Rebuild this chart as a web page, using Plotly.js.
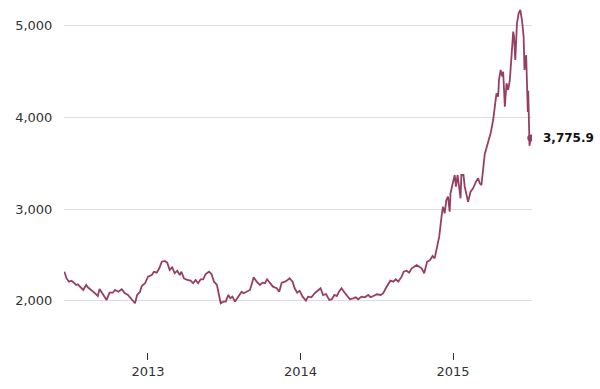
<!DOCTYPE html>
<html>
<head>
<meta charset="utf-8">
<script src="https://cdn.plot.ly/plotly-3.0.1.min.js"></script>
<style>
  html, body { margin: 0; padding: 0; background: #ffffff; }
  #chart { width: 600px; height: 389px; }
</style>
</head>
<body>
<div id="chart"></div>
<script>
// Index level (date, close)
const dates = [
  "2012-06-15","2012-06-20","2012-06-26","2012-07-02","2012-07-09","2012-07-13","2012-07-17","2012-07-24","2012-07-30",
  "2012-08-06","2012-08-10","2012-08-20","2012-08-27","2012-09-03","2012-09-07","2012-09-14","2012-09-24","2012-10-01",
  "2012-10-09","2012-10-14","2012-10-22","2012-10-30","2012-11-07","2012-11-14","2012-11-23","2012-12-01","2012-12-06",
  "2012-12-13","2012-12-17","2012-12-25","2013-01-01","2013-01-10","2013-01-15","2013-01-22","2013-01-28","2013-02-03",
  "2013-02-10","2013-02-16","2013-02-22","2013-02-28","2013-03-06","2013-03-12","2013-03-18","2013-03-22","2013-03-28",
  "2013-04-05","2013-04-13","2013-04-19","2013-04-25","2013-05-01","2013-05-07","2013-05-13","2013-05-19","2013-05-27",
  "2013-06-02","2013-06-08","2013-06-15","2013-06-20","2013-06-24","2013-06-30","2013-07-06","2013-07-12","2013-07-17",
  "2013-07-22","2013-07-28","2013-08-05","2013-08-13","2013-08-18","2013-08-25","2013-09-02","2013-09-08","2013-09-11",
  "2013-09-18","2013-09-26","2013-10-02","2013-10-08","2013-10-13","2013-10-20","2013-10-27","2013-11-05","2013-11-11",
  "2013-11-17","2013-11-25","2013-12-01","2013-12-06","2013-12-13","2013-12-18","2013-12-24","2013-12-30","2014-01-06",
  "2014-01-14","2014-01-19","2014-01-27","2014-02-04","2014-02-12","2014-02-18","2014-02-24","2014-03-03","2014-03-11",
  "2014-03-17","2014-03-23","2014-03-29","2014-04-03","2014-04-09","2014-04-15","2014-04-21","2014-04-29","2014-05-07",
  "2014-05-13","2014-05-19","2014-05-27","2014-06-04","2014-06-12","2014-06-18","2014-06-26","2014-07-03","2014-07-12",
  "2014-07-18","2014-07-24","2014-07-30","2014-08-04","2014-08-11","2014-08-17","2014-08-23","2014-08-31","2014-09-05",
  "2014-09-12","2014-09-18","2014-09-24","2014-09-30","2014-10-06","2014-10-12","2014-10-18","2014-10-24","2014-10-31",
  "2014-11-07","2014-11-13","2014-11-18","2014-11-24","2014-11-29","2014-12-05","2014-12-08","2014-12-12","2014-12-16",
  "2014-12-20","2014-12-24","2014-12-26","2014-12-31","2015-01-05","2015-01-08","2015-01-12","2015-01-16","2015-01-19",
  "2015-01-21","2015-01-26","2015-01-29","2015-02-02","2015-02-06","2015-02-12","2015-02-18","2015-02-25","2015-03-02",
  "2015-03-06","2015-03-10","2015-03-18","2015-03-23","2015-03-26","2015-04-01","2015-04-07","2015-04-11","2015-04-15",
  "2015-04-19","2015-04-21","2015-04-25","2015-04-29","2015-05-01","2015-05-05","2015-05-09","2015-05-13","2015-05-17",
  "2015-05-21","2015-05-25","2015-05-27","2015-05-30","2015-06-03","2015-06-07","2015-06-11","2015-06-15","2015-06-19",
  "2015-06-21","2015-06-25","2015-06-27","2015-06-29","2015-06-30","2015-07-01","2015-07-02","2015-07-03","2015-07-06"
];
const values = [
  2316,2244,2207,2218,2190,2171,2179,2146,2117,
  2171,2146,2109,2081,2051,2128,2081,2008,2087,
  2087,2117,2098,2124,2081,2062,2008,1972,2062,
  2098,2160,2190,2262,2280,2316,2305,2353,2425,
  2433,2415,2335,2364,2299,2327,2280,2316,2244,
  2226,2218,2190,2226,2190,2233,2233,2291,2316,
  2291,2207,2171,2062,1972,1989,1989,2062,2026,
  2044,1989,2044,2098,2081,2098,2117,2207,2255,
  2207,2171,2196,2190,2233,2196,2153,2135,2098,
  2196,2207,2226,2244,2207,2135,2087,2108,2044,
  2000,2044,2037,2081,2117,2135,2062,2073,2008,
  2015,2062,2051,2098,2135,2098,2062,2015,2026,
  2037,2015,2044,2037,2062,2037,2051,2070,2062,
  2081,2135,2190,2218,2207,2233,2207,2262,2316,
  2327,2305,2353,2371,2389,2371,2353,2299,2425,
  2444,2488,2462,2589,2698,2935,3025,2953,3098,
  3135,2971,3172,3262,3371,3244,3371,3226,3117,
  3371,3371,3244,3172,3080,3189,3226,3298,3335,
  3280,3262,3600,3680,3717,3826,3971,4117,4262,
  4226,4408,4517,4444,4498,4117,4371,4299,4408,
  4662,4935,4880,4626,5026,5135,5171,5062,4880,
  4517,4680,4262,4060,4290,4060,3910,3690,3775.9
];
const yTickValues = [2000, 3000, 4000, 5000];
const xTickValues = ["2013-01-01", "2014-01-01", "2015-01-01"];
const xTickLabels = ["2013", "2014", "2015"];

const lineColor = "#973f63";
const lastDate = dates[dates.length - 1];
const lastValue = values[values.length - 1];
const lastLabel = lastValue.toLocaleString("en-US", {minimumFractionDigits: 1, maximumFractionDigits: 1});

const traces = [
  {
    x: dates, y: values, type: "scatter", mode: "lines",
    line: {color: lineColor, width: 1.8},
    hoverinfo: "skip"
  },
  {
    x: [lastDate], y: [lastValue], type: "scatter", mode: "markers",
    marker: {color: lineColor, size: 7},
    hoverinfo: "skip"
  }
];

const layout = {
  width: 600, height: 389,
  margin: {l: 64, r: 68, t: 8, b: 37},
  paper_bgcolor: "#ffffff", plot_bgcolor: "#ffffff",
  showlegend: false,
  font: {family: "DejaVu Sans, sans-serif", size: 13, color: "#333333"},
  xaxis: {
    type: "date",
    range: ["2012-06-14", "2015-07-09"],
    tickvals: xTickValues, ticktext: xTickLabels,
    ticks: "outside", ticklen: 7, tickwidth: 1, tickcolor: "#333333",
    showgrid: false, zeroline: false, showline: false,
    tickfont: {family: "DejaVu Sans, sans-serif", size: 13, color: "#333333"}
  },
  yaxis: {
    range: [1440, 5193],
    tickvals: yTickValues, tickformat: ",",
    showgrid: true, gridcolor: "#dcdcdc", gridwidth: 1,
    zeroline: false, showline: false,
    ticks: "outside", ticklen: 8, tickcolor: "rgba(0,0,0,0)",
    tickfont: {family: "DejaVu Sans, sans-serif", size: 13, color: "#333333"}
  },
  annotations: [
    {
      x: lastDate, y: lastValue, xref: "x", yref: "y",
      text: "<b>" + lastLabel + "</b>", showarrow: false,
      xanchor: "left", yanchor: "middle", xshift: 10,
      font: {family: "DejaVu Sans, sans-serif", size: 12, color: "#111111"}
    }
  ]
};

Plotly.newPlot("chart", traces, layout, {displayModeBar: false, staticPlot: true});
</script>
</body>
</html>
